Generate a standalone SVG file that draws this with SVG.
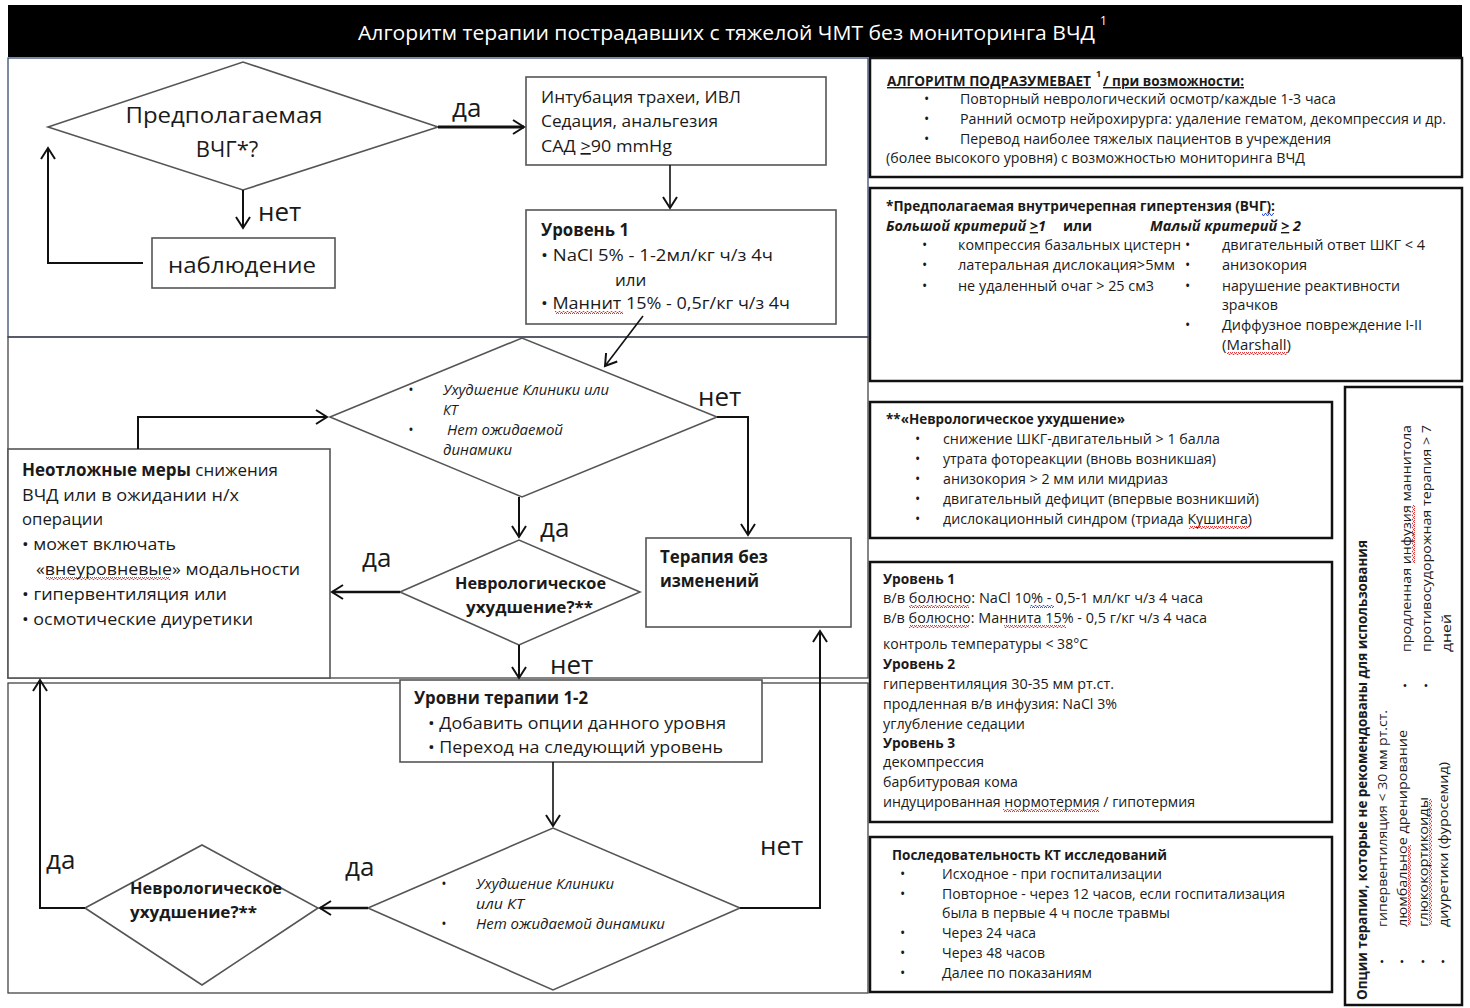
<svg xmlns="http://www.w3.org/2000/svg" width="1470" height="1008" viewBox="0 0 1470 1008">
<defs>
<marker id="ah" markerUnits="userSpaceOnUse" markerWidth="16" markerHeight="16" viewBox="-12 -8 14 16" refX="0" refY="0" orient="auto">
<path d="M-11,-7 L0,0 L-11,7" fill="none" stroke="#111" stroke-width="2"/>
</marker>
<clipPath id="clipL"><rect x="400" y="683" width="362" height="74"/></clipPath>
<pattern id="sqr" width="4" height="3" patternUnits="userSpaceOnUse"><path d="M0,2.5 L1,0.5 L2,0.5 L3,2.5 L4,2.5" fill="none" stroke="#e02020" stroke-width="0.9"/></pattern>
<pattern id="sqb" width="4" height="3" patternUnits="userSpaceOnUse"><path d="M0,2.5 L1,0.5 L2,0.5 L3,2.5 L4,2.5" fill="none" stroke="#2040e0" stroke-width="0.9"/></pattern>
<pattern id="sqv" width="3" height="4" patternUnits="userSpaceOnUse"><path d="M2.5,0 L0.5,1 L0.5,2 L2.5,3 L2.5,4" fill="none" stroke="#e02020" stroke-width="0.9"/></pattern>
</defs>
<style>
text{font-family:"Open Sans","Noto Sans","DejaVu Sans",sans-serif;fill:#1a1a1a}
.b{font-weight:bold}
.i{font-style:italic}
.lbl{font-size:26px}
.f17{font-size:17px}
.f14{font-size:14px}
.f13{font-size:13px}
.panel{fill:none;stroke:#444;stroke-width:1.3}
.nbox{fill:#fff;stroke:#555;stroke-width:1.6}
.rbox{fill:#fff;stroke:#111;stroke-width:2.5}
.dia{fill:#fff;stroke:#555;stroke-width:1.6}
.con{fill:none;stroke:#111;stroke-width:2;marker-end:url(#ah)}
.u{text-decoration:underline}
.sr{fill:url(#sqr)}
.sb{fill:url(#sqb)}
.sv{fill:url(#sqv)}
</style>
<rect x="0" y="0" width="1470" height="1008" fill="#fff"/>
<g id="title">
<rect x="8" y="5" width="1454" height="52" fill="#000"/>
<text x="358" y="40" font-size="20" textLength="737" lengthAdjust="spacingAndGlyphs" style="fill:#fff">Алгоритм терапии пострадавших с тяжелой ЧМТ без мониторинга ВЧД</text>
<text x="1100" y="25" font-size="12" style="fill:#fff">1</text>
</g>
<g id="panels">
<rect x="8" y="58" width="860" height="279" fill="none" stroke="#3a4a7a" stroke-width="1.3"/>
<rect class="panel" x="8" y="337" width="860" height="341"/>
<rect class="panel" x="8" y="683" width="860" height="310"/>
</g>
<g id="n_vchg">
<polygon class="dia" points="48,127 243,62 438,127 243,190"/>
<text x="224" y="123" font-size="22" text-anchor="middle" textLength="197" lengthAdjust="spacingAndGlyphs">Предполагаемая</text>
<text x="227" y="157" font-size="22" text-anchor="middle">ВЧГ*?</text>
</g>
<g id="n_nabl">
<rect class="nbox" x="152" y="238" width="183" height="50"/>
<text x="242" y="273" font-size="22" text-anchor="middle" textLength="148" lengthAdjust="spacingAndGlyphs">наблюдение</text>
</g>
<g id="n_intub">
<rect class="nbox" x="526" y="77" width="300" height="88"/>
<text class="f17" x="541" y="103" textLength="200" lengthAdjust="spacingAndGlyphs">Интубация трахеи, ИВЛ</text>
<text class="f17" x="541" y="127" textLength="177" lengthAdjust="spacingAndGlyphs">Седация, анальгезия</text>
<text class="f17" x="541" y="152" textLength="131" lengthAdjust="spacingAndGlyphs">САД <tspan class="u">&gt;</tspan>90 mmHg</text>
</g>
<g id="n_level1">
<rect class="nbox" x="526" y="210" width="310" height="114"/>
<text class="f17 b" x="541" y="236" textLength="88" lengthAdjust="spacingAndGlyphs">Уровень 1</text>
<text class="f17" x="541" y="261" textLength="232" lengthAdjust="spacingAndGlyphs">• NaCl 5% - 1-2мл/кг  ч/з 4ч</text>
<text class="f17" x="615" y="286">или</text>
<text class="f17" x="541" y="309" textLength="249" lengthAdjust="spacingAndGlyphs">• Маннит 15% - 0,5г/кг ч/з 4ч</text>
<rect class="sr" x="555" y="311" width="68" height="3"/>
</g>
<g id="n_dec1">
<polygon class="dia" points="330,417 522,338 717,417 522,497"/>
<text class="f14 i" x="408" y="395">•</text>
<text class="f14 i" x="443" y="395" textLength="166" lengthAdjust="spacingAndGlyphs">Ухудшение Клиники или</text>
<text class="f14 i" x="443" y="415">КТ</text>
<text class="f14 i" x="408" y="435">•</text>
<text class="f14 i" x="447" y="435" textLength="116" lengthAdjust="spacingAndGlyphs">Нет ожидаемой</text>
<text class="f14 i" x="443" y="455" textLength="69" lengthAdjust="spacingAndGlyphs">динамики</text>
</g>
<g id="n_urgent">
<rect class="nbox" x="8" y="449" width="322" height="229"/>
<text class="f17" x="22" y="476" textLength="256" lengthAdjust="spacingAndGlyphs"><tspan class="b">Неотложные меры</tspan> снижения</text>
<text class="f17" x="22" y="501" textLength="217" lengthAdjust="spacingAndGlyphs">ВЧД или  в ожидании н/х</text>
<text class="f17" x="22" y="525" textLength="81" lengthAdjust="spacingAndGlyphs">операции</text>
<text class="f17" x="22" y="550" textLength="154" lengthAdjust="spacingAndGlyphs">• может включать</text>
<text class="f17" x="36" y="575" textLength="264" lengthAdjust="spacingAndGlyphs">«внеуровневые»  модальности</text>
<rect class="sr" x="46" y="577" width="124" height="3"/>
<text class="f17" x="22" y="600" textLength="205" lengthAdjust="spacingAndGlyphs">• гипервентиляция   или</text>
<text class="f17" x="22" y="625" textLength="231" lengthAdjust="spacingAndGlyphs">• осмотические  диуретики</text>
</g>
<g id="n_neuro1">
<polygon class="dia" points="400,592 519,540 640,592 519,645"/>
<text class="b" font-size="16" x="455" y="589" textLength="151" lengthAdjust="spacingAndGlyphs">Неврологическое</text>
<text class="b" font-size="16" x="466" y="613" textLength="127" lengthAdjust="spacingAndGlyphs">ухудшение?**</text>
</g>
<g id="n_nochange">
<rect class="nbox" x="646" y="538" width="205" height="89"/>
<text class="f17 b" x="660" y="563" textLength="108" lengthAdjust="spacingAndGlyphs">Терапия без</text>
<text class="f17 b" x="660" y="587" textLength="99" lengthAdjust="spacingAndGlyphs">изменений</text>
</g>
<g id="n_levels12">
<rect class="nbox" x="400" y="680" width="362" height="82"/>
<text class="f17 b" x="414" y="704" textLength="174" lengthAdjust="spacingAndGlyphs">Уровни терапии 1-2</text>
<text class="f17" x="428" y="729" textLength="298" lengthAdjust="spacingAndGlyphs">• Добавить опции данного уровня</text>
<text class="f17" x="428" y="753" textLength="295" lengthAdjust="spacingAndGlyphs" clip-path="url(#clipL)">• Переход на следующий уровень</text>
</g>
<g id="n_dec2">
<polygon class="dia" points="368,908 553,828 740,908 553,990"/>
<text class="f14 i" x="441" y="889">•</text>
<text class="f14 i" x="476" y="889" textLength="138" lengthAdjust="spacingAndGlyphs">Ухудшение Клиники</text>
<text class="f14 i" x="476" y="909" textLength="48" lengthAdjust="spacingAndGlyphs">или КТ</text>
<text class="f14 i" x="441" y="929">•</text>
<text class="f14 i" x="476" y="929" textLength="189" lengthAdjust="spacingAndGlyphs">Нет ожидаемой динамики</text>
</g>
<g id="n_neuro2">
<polygon class="dia" points="85,908 202,845 318,908 202,985"/>
<text class="b" font-size="16" x="130" y="894" textLength="152" lengthAdjust="spacingAndGlyphs">Неврологическое</text>
<text class="b" font-size="16" x="130" y="918" textLength="127" lengthAdjust="spacingAndGlyphs">ухудшение?**</text>
</g>
<g id="connectors">
<path class="con" d="M438,127 L524,127" style="stroke-width:3"/>
<path class="con" d="M243,190 L243,228"/>
<path class="con" d="M143,263 L48,263 L48,148"/>
<path class="con" d="M670,165 L670,208" style="stroke-width:1.6"/>
<path class="con" d="M643,316 L605,366" style="stroke-width:1.6"/>
<path class="con" d="M717,417 L748,417 L748,535"/>
<path class="con" d="M138,449 L138,417 L327,417"/>
<path class="con" d="M519,497 L519,537"/>
<path class="con" d="M400,592 L332,592" style="stroke-width:2.5"/>
<path class="con" d="M519,645 L519,678"/>
<path class="con" d="M553,762 L553,826" style="stroke-width:1.6"/>
<path class="con" d="M740,908 L820,908 L820,631"/>
<path class="con" d="M368,908 L320,908" style="stroke-width:2.5"/>
<path class="con" d="M85,908 L40,908 L40,680"/>
<text class="lbl" x="452" y="117">да</text>
<text class="lbl" x="258" y="221">нет</text>
<text class="lbl" x="698" y="406">нет</text>
<text class="lbl" x="540" y="537">да</text>
<text class="lbl" x="362" y="567">да</text>
<text class="lbl" x="550" y="674">нет</text>
<text class="lbl" x="760" y="855">нет</text>
<text class="lbl" x="345" y="876">да</text>
<text class="lbl" x="46" y="869">да</text>
</g>
<g id="n_implies">
<rect class="rbox" x="870" y="58" width="592" height="119"/>
<text class="f14 b u" x="887" y="86" textLength="204" lengthAdjust="spacingAndGlyphs">АЛГОРИТМ ПОДРАЗУМЕВАЕТ</text>
<text class="b" font-size="9" x="1096" y="77">1</text>
<text class="f14 b u" x="1103" y="86" textLength="141" lengthAdjust="spacingAndGlyphs">/ при возможности:</text>
<text class="f14" x="924" y="104">•</text>
<text class="f14" x="960" y="104" textLength="376" lengthAdjust="spacingAndGlyphs">Повторный неврологический осмотр/каждые 1-3 часа</text>
<text class="f14" x="924" y="124">•</text>
<text class="f14" x="960" y="124" textLength="486" lengthAdjust="spacingAndGlyphs">Ранний осмотр нейрохирурга: удаление гематом, декомпрессия и др.</text>
<text class="f14" x="924" y="144">•</text>
<text class="f14" x="960" y="144" textLength="371" lengthAdjust="spacingAndGlyphs">Перевод наиболее тяжелых пациентов в учреждения</text>
<text class="f14" x="886" y="163" textLength="419" lengthAdjust="spacingAndGlyphs">(более высокого уровня) с возможностью мониторинга ВЧД</text>
</g>
<g id="n_icp">
<rect class="rbox" x="870" y="188" width="592" height="193"/>
<text class="f14 b" x="886" y="211" textLength="389" lengthAdjust="spacingAndGlyphs">*Предполагаемая внутричерепная гипертензия (ВЧГ):</text>
<rect class="sb" x="1262" y="213" width="12" height="3"/>
<text class="f14 b i" x="886" y="231" textLength="160" lengthAdjust="spacingAndGlyphs">Большой критерий <tspan class="u">&gt;</tspan>1</text>
<text class="f14 b" x="1063" y="231">или</text>
<text class="f14 b i" x="1150" y="231" textLength="151" lengthAdjust="spacingAndGlyphs">Малый критерий <tspan class="u">&gt;</tspan> 2</text>
<text class="f14" x="922" y="250">•</text>
<text class="f14" x="958" y="250" textLength="223" lengthAdjust="spacingAndGlyphs">компрессия базальных цистерн</text>
<text class="f14" x="922" y="270">•</text>
<text class="f14" x="958" y="270" textLength="217" lengthAdjust="spacingAndGlyphs">латеральная дислокация&gt;5мм</text>
<text class="f14" x="922" y="291">•</text>
<text class="f14" x="958" y="291" textLength="196" lengthAdjust="spacingAndGlyphs">не удаленный очаг &gt; 25 см3</text>
<text class="f14" x="1185" y="250">•</text>
<text class="f14" x="1222" y="250" textLength="203" lengthAdjust="spacingAndGlyphs">двигательный ответ ШКГ  &lt; 4</text>
<text class="f14" x="1185" y="270">•</text>
<text class="f14" x="1222" y="270" textLength="85" lengthAdjust="spacingAndGlyphs">анизокория</text>
<text class="f14" x="1185" y="291">•</text>
<text class="f14" x="1222" y="291" textLength="178" lengthAdjust="spacingAndGlyphs">нарушение реактивности</text>
<text class="f14" x="1222" y="310" textLength="56" lengthAdjust="spacingAndGlyphs">зрачков</text>
<text class="f14" x="1185" y="330">•</text>
<text class="f14" x="1222" y="330" textLength="200" lengthAdjust="spacingAndGlyphs">Диффузное повреждение I-II</text>
<text class="f14" x="1222" y="350" textLength="69" lengthAdjust="spacingAndGlyphs">(Marshall)</text>
<rect class="sr" x="1227" y="352" width="60" height="3"/>
</g>
<g id="n_neurodef">
<rect class="rbox" x="870" y="402" width="462" height="136"/>
<text class="f14 b" x="886" y="424" textLength="239" lengthAdjust="spacingAndGlyphs">**«Неврологическое ухудшение»</text>
<text class="f14" x="915" y="444">•</text>
<text class="f14" x="943" y="444" textLength="277" lengthAdjust="spacingAndGlyphs">снижение  ШКГ-двигательный &gt; 1 балла</text>
<text class="f14" x="915" y="464">•</text>
<text class="f14" x="943" y="464" textLength="273" lengthAdjust="spacingAndGlyphs">утрата фотореакции (вновь возникшая)</text>
<text class="f14" x="915" y="484">•</text>
<text class="f14" x="943" y="484" textLength="225" lengthAdjust="spacingAndGlyphs">анизокория &gt; 2 мм или мидриаз</text>
<text class="f14" x="915" y="504">•</text>
<text class="f14" x="943" y="504" textLength="316" lengthAdjust="spacingAndGlyphs">двигательный дефицит (впервые возникший)</text>
<text class="f14" x="915" y="524">•</text>
<text class="f14" x="943" y="524" textLength="309" lengthAdjust="spacingAndGlyphs">дислокационный синдром (триада Кушинга)</text>
<rect class="sr" x="1189" y="526" width="60" height="3"/>
</g>
<g id="n_levels">
<rect class="rbox" x="870" y="562" width="462" height="260"/>
<text class="f14 b" x="883" y="584" textLength="72" lengthAdjust="spacingAndGlyphs">Уровень 1</text>
<text class="f14" x="883" y="603" textLength="320" lengthAdjust="spacingAndGlyphs">в/в болюсно: NaCl 10%  - 0,5-1 мл/кг ч/з 4 часа</text>
<rect class="sr" x="909" y="605" width="60" height="3"/>
<rect class="sb" x="1030" y="605" width="24" height="3"/>
<text class="f14" x="883" y="623" textLength="324" lengthAdjust="spacingAndGlyphs">в/в болюсно: Маннита 15% - 0,5 г/кг ч/з  4 часа</text>
<rect class="sr" x="909" y="625" width="60" height="3"/>
<rect class="sr" x="1004" y="625" width="62" height="3"/>
<text class="f14" x="883" y="649" textLength="205" lengthAdjust="spacingAndGlyphs">контроль температуры &lt; 38°C</text>
<text class="f14 b" x="883" y="669" textLength="72" lengthAdjust="spacingAndGlyphs">Уровень 2</text>
<text class="f14" x="883" y="689" textLength="231" lengthAdjust="spacingAndGlyphs">гипервентиляция  30-35 мм рт.ст.</text>
<text class="f14" x="883" y="709" textLength="234" lengthAdjust="spacingAndGlyphs">продленная в/в инфузия: NaCl 3%</text>
<text class="f14" x="883" y="729" textLength="142" lengthAdjust="spacingAndGlyphs">углубление седации</text>
<text class="f14 b" x="883" y="748" textLength="72" lengthAdjust="spacingAndGlyphs">Уровень 3</text>
<text class="f14" x="883" y="767" textLength="101" lengthAdjust="spacingAndGlyphs">декомпрессия</text>
<text class="f14" x="883" y="787" textLength="135" lengthAdjust="spacingAndGlyphs">барбитуровая кома</text>
<text class="f14" x="883" y="807" textLength="312" lengthAdjust="spacingAndGlyphs">индуцированная нормотермия / гипотермия</text>
<rect class="sr" x="1003" y="809" width="96" height="3"/>
</g>
<g id="n_ct">
<rect class="rbox" x="870" y="837" width="462" height="155"/>
<text class="f14 b" x="892" y="860" textLength="275" lengthAdjust="spacingAndGlyphs">Последовательность  КТ исследований</text>
<text class="f14" x="900" y="879">•</text>
<text class="f14" x="942" y="879" textLength="220" lengthAdjust="spacingAndGlyphs">Исходное - при госпитализации</text>
<text class="f14" x="900" y="899">•</text>
<text class="f14" x="942" y="899" textLength="343" lengthAdjust="spacingAndGlyphs">Повторное - через 12 часов, если госпитализация</text>
<text class="f14" x="942" y="918" textLength="228" lengthAdjust="spacingAndGlyphs">была в первые 4 ч после травмы</text>
<text class="f14" x="900" y="938">•</text>
<text class="f14" x="942" y="938" textLength="94" lengthAdjust="spacingAndGlyphs">Через 24 часа</text>
<text class="f14" x="900" y="958">•</text>
<text class="f14" x="942" y="958" textLength="103" lengthAdjust="spacingAndGlyphs">Через 48 часов</text>
<text class="f14" x="900" y="978">•</text>
<text class="f14" x="942" y="978" textLength="150" lengthAdjust="spacingAndGlyphs">Далее по показаниям</text>
</g>
<g id="n_notrec">
<rect class="rbox" x="1345" y="387" width="117" height="618"/>
<text class="f14 b" transform="translate(1367,1000) rotate(-90)" textLength="460" lengthAdjust="spacingAndGlyphs">Опции терапии, которые не рекомендованы для использования</text>
<text class="f13" x="1382" y="966" text-anchor="middle">•</text>
<text class="f13" x="1402" y="966" text-anchor="middle">•</text>
<text class="f13" x="1423" y="966" text-anchor="middle">•</text>
<text class="f13" x="1443" y="966" text-anchor="middle">•</text>
<text class="f13" transform="translate(1387,927) rotate(-90)" textLength="217" lengthAdjust="spacingAndGlyphs">гипервентиляция &lt; 30 мм рт.ст.</text>
<text class="f13" transform="translate(1407,927) rotate(-90)" textLength="197" lengthAdjust="spacingAndGlyphs">люмбальное дренирование</text>
<rect class="sv" x="1408" y="845" width="3" height="80"/>
<text class="f13" transform="translate(1428,927) rotate(-90)" textLength="130" lengthAdjust="spacingAndGlyphs">глюкокортикоиды</text>
<rect class="sv" x="1429" y="799" width="3" height="126"/>
<text class="f13" transform="translate(1448,927) rotate(-90)" textLength="165" lengthAdjust="spacingAndGlyphs">диуретики (фуросемид)</text>
<text class="f13" x="1405" y="690" text-anchor="middle">•</text>
<text class="f13" x="1426" y="690" text-anchor="middle">•</text>
<text class="f13" transform="translate(1411,652) rotate(-90)" textLength="227" lengthAdjust="spacingAndGlyphs">продленная инфузия маннитола</text>
<rect class="sv" x="1412" y="505" width="3" height="58"/>
<text class="f13" transform="translate(1431,652) rotate(-90)" textLength="227" lengthAdjust="spacingAndGlyphs">противосудорожная терапия &gt; 7</text>
<text class="f13" transform="translate(1451,652) rotate(-90)" textLength="38" lengthAdjust="spacingAndGlyphs">дней</text>
</g>
</svg>
